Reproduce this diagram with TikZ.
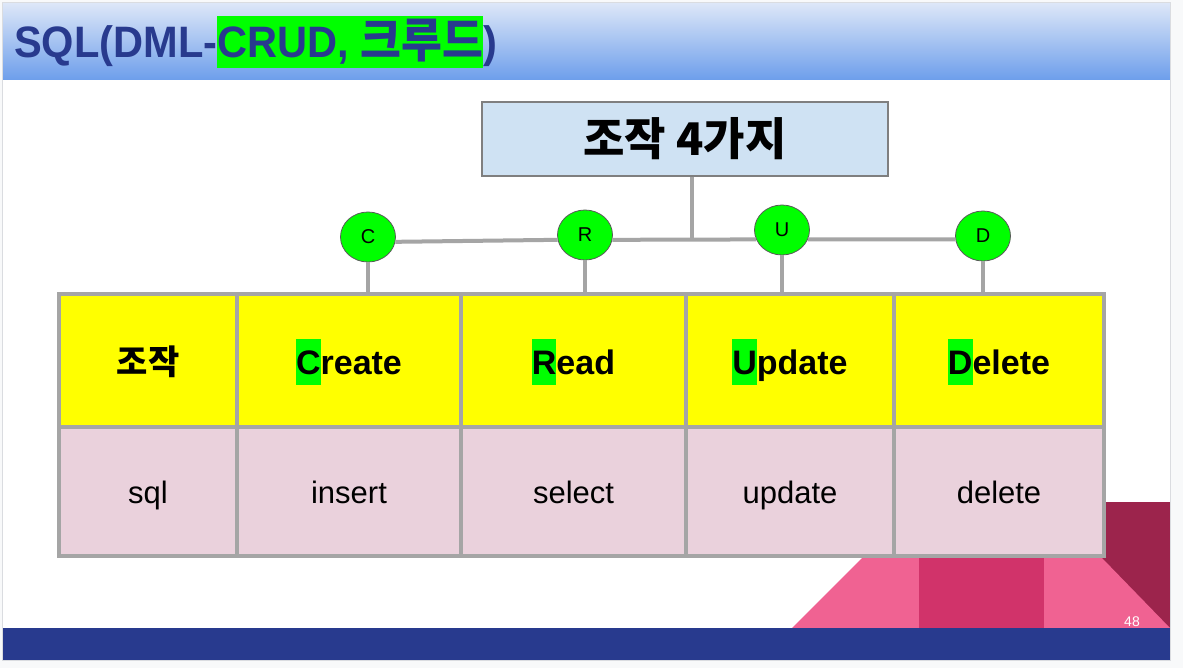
\documentclass[tikz,border=0pt]{standalone}
\usepackage{fontspec}
\setmainfont{Liberation Sans}
\newfontfamily\kr{Noto Sans CJK KR}
\usetikzlibrary{shapes.geometric}
\definecolor{pagegray}{HTML}{F8F9FA}
\definecolor{slideborder}{HTML}{DADCE0}
\definecolor{tbtop}{HTML}{DDE7F8}
\definecolor{tbbot}{HTML}{6D9EEB}
\definecolor{navy}{HTML}{283A8E}
\definecolor{hlgreen}{HTML}{00FF00}
\definecolor{boxblue}{HTML}{CFE2F3}
\definecolor{boxedge}{HTML}{7F7F7F}
\definecolor{tgray}{HTML}{A5A5A5}
\definecolor{cellyellow}{HTML}{FFFF00}
\definecolor{cellpink}{HTML}{EAD1DC}
\definecolor{pinkA}{HTML}{F06292}
\definecolor{pinkB}{HTML}{D1336A}
\definecolor{maroon}{HTML}{9C244C}
\newcommand\hlg[1]{{\setlength{\fboxsep}{0pt}\colorbox{hlgreen}{\rule[-10pt]{0pt}{46pt}#1}}}
\newcommand\hlt[1]{{\setlength{\fboxsep}{0pt}\colorbox{hlgreen}{\rule[-10pt]{0pt}{52pt}#1}}}
\tikzset{
  headcell/.style={rectangle, draw=tgray, line width=4pt, fill=cellyellow, inner sep=0pt,
    text height=38pt, text depth=10pt, font=\fontsize{34}{46}\selectfont\bfseries},
  bodycell/.style={rectangle, draw=tgray, line width=4pt, fill=cellpink, inner sep=0pt,
    text height=30pt, text depth=7pt, font=\fontsize{31}{36}\selectfont},
  letter/.style={ellipse, draw=black!65, line width=0.8pt, fill=hlgreen, minimum width=55pt,
    minimum height=50pt, inner sep=0pt, font=\fontsize{20}{22}\selectfont},
  conn/.style={draw=tgray, line width=4pt},
}
\begin{document}
\begin{tikzpicture}[x=1pt,y=-1pt]
\useasboundingbox (0,0) rectangle (1183,668);
\fill[pagegray] (0,0) rectangle (1183,668);
\fill[white] (2,3) rectangle (1170,660);
\shade[top color=tbtop,bottom color=tbbot] (2,3) rectangle (1170,80);
% decoration
\fill[maroon] (1098,502) rectangle (1170,628);
\fill[pinkA] (792,628) -- (862,558) -- (1102,558) -- (1170,628) -- cycle;
\fill[pinkB] (919,558) rectangle (1044,628);
\fill[navy] (2,628) rectangle (1170,660);
\draw[slideborder, line width=1pt] (2,3) rectangle (1170,660);
\node[text=white, font=\fontsize{14}{16}\selectfont] (pnum) at (1132,622) {48};
% title
\node[anchor=base west, inner sep=0pt, text=navy, font=\fontsize{44}{52}\selectfont\bfseries] (title) at (14,58)
  {\scalebox{0.945}[1]{SQL(DML-\hlt{CRUD, {\kr\fontsize{47}{52}\selectfont 크루드}})}};
% top box
\node[rectangle, draw=boxedge, line width=1.2pt, fill=boxblue, minimum width=406pt, minimum height=74pt,
  font=\kr\fontsize{45}{50}\selectfont\bfseries] (top) at (685,139) {조작 4가지};
% table
\node[headcell, minimum width=178pt, minimum height=133pt] (h0) at (148,360.5) {\kr 조작};
\node[headcell, minimum width=224pt, minimum height=133pt] (h1) at (349,360.5) {\hlg{C}reate};
\node[headcell, minimum width=225pt, minimum height=133pt] (h2) at (573.5,360.5) {\hlg{R}ead};
\node[headcell, minimum width=208pt, minimum height=133pt] (h3) at (790,360.5) {\hlg{U}pdate};
\node[headcell, minimum width=210pt, minimum height=133pt] (h4) at (999,360.5) {\hlg{D}elete};
\node[bodycell, minimum width=178pt, minimum height=129pt] (b0) at (148,491.5) {sql};
\node[bodycell, minimum width=224pt, minimum height=129pt] (b1) at (349,491.5) {insert};
\node[bodycell, minimum width=225pt, minimum height=129pt] (b2) at (573.5,491.5) {select};
\node[bodycell, minimum width=208pt, minimum height=129pt] (b3) at (790,491.5) {update};
\node[bodycell, minimum width=210pt, minimum height=129pt] (b4) at (999,491.5) {delete};
% letters
\node[letter] (C) at (368,237) {C};
\node[letter] (R) at (585,235) {R};
\node[letter] (U) at (782,230) {U};
\node[letter] (D) at (983,236) {D};
\coordinate (J) at (692,239);
\path[conn] (J |- top.south) -- (J);
\path[conn] (C.-10) -- (R.190);
\path[conn] (R.-10) -- (U.200);
\path[conn] (U.-20) -- (D.187);
\path[conn] (C.south) -- (C.south |- h1.north);
\path[conn] (R.south) -- (R.south |- h2.north);
\path[conn] (U.south) -- (U.south |- h3.north);
\path[conn] (D.south) -- (D.south |- h4.north);
\end{tikzpicture}
\end{document}
